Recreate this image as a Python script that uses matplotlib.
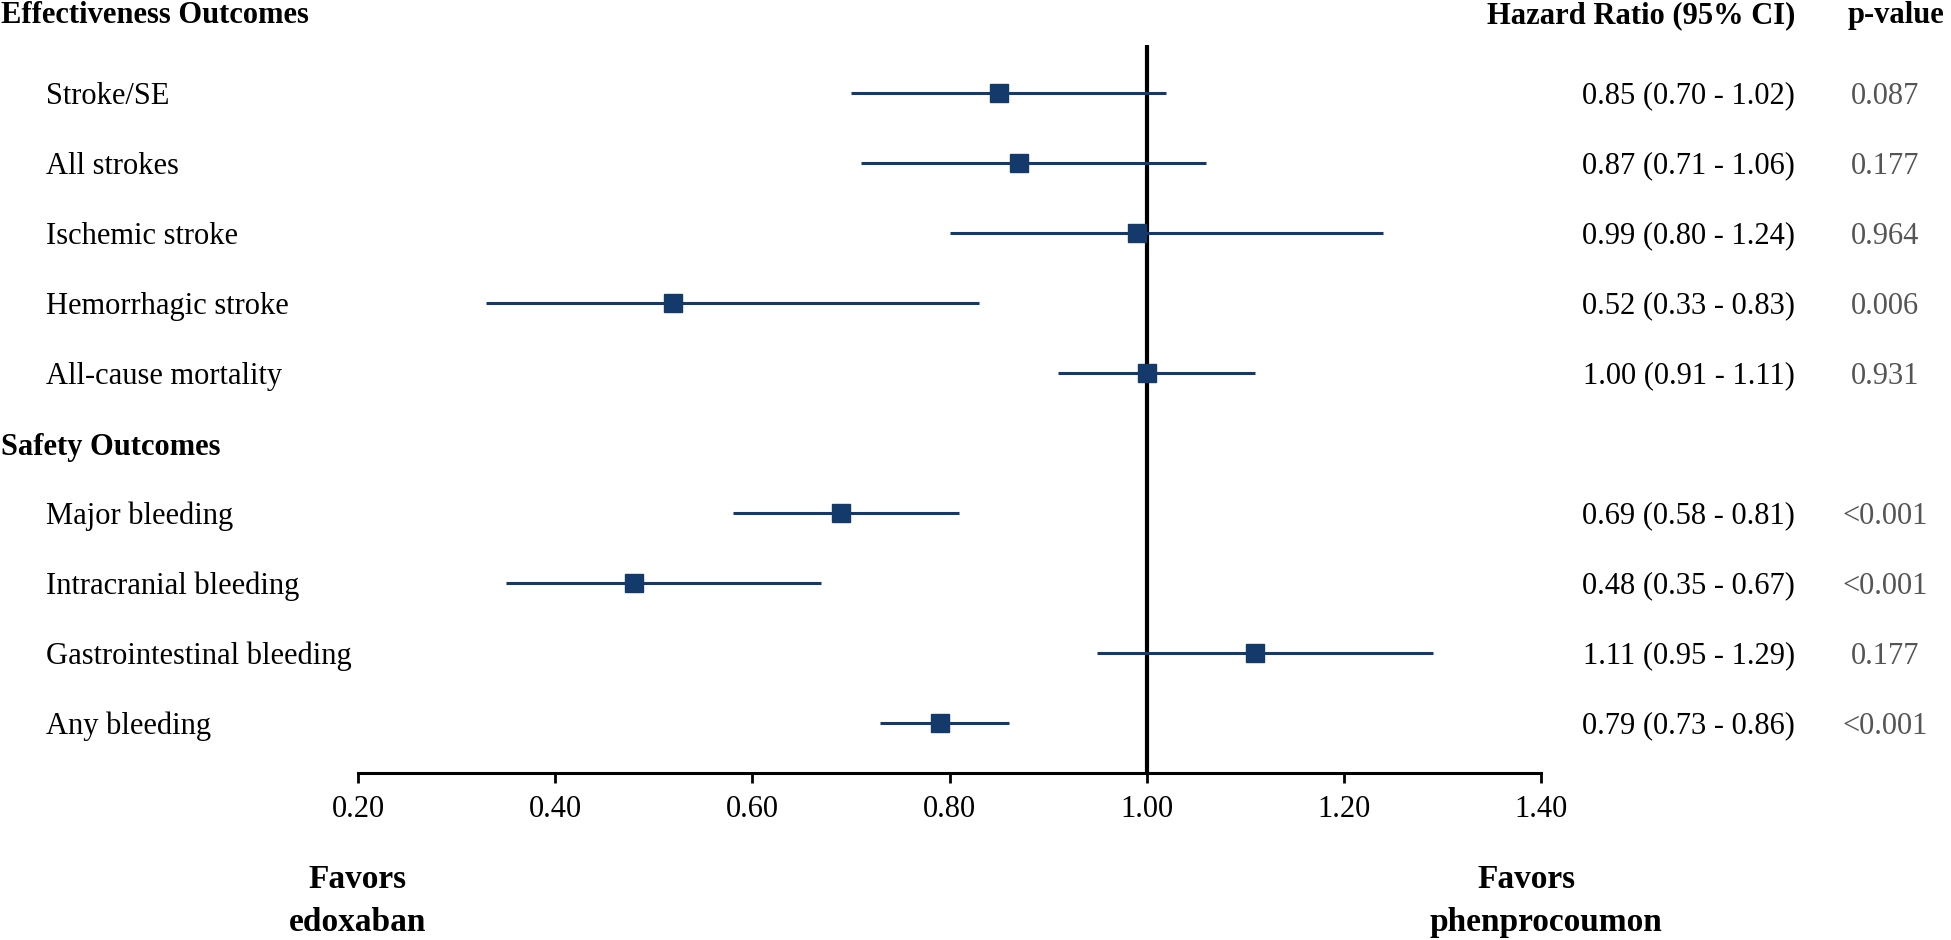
import matplotlib
matplotlib.use('Agg')
import matplotlib.pyplot as plt
import matplotlib.transforms as mtransforms

# Data
labels = ['Stroke/SE', 'All strokes', 'Ischemic stroke', 'Hemorrhagic stroke', 'All-cause mortality',
          'Major bleeding', 'Intracranial bleeding', 'Gastrointestinal bleeding', 'Any bleeding']
hr = [0.85, 0.87, 0.99, 0.52, 1.00, 0.69, 0.48, 1.11, 0.79]
ci_lo = [0.70, 0.71, 0.80, 0.33, 0.91, 0.58, 0.35, 0.95, 0.73]
ci_hi = [1.02, 1.06, 1.24, 0.83, 1.11, 0.81, 0.67, 1.29, 0.86]
pvals = ['0.087', '0.177', '0.964', '0.006', '0.931', '<0.001', '<0.001', '0.177', '<0.001']
rows = [1, 2, 3, 4, 5, 7, 8, 9, 10]
groups = ['Effectiveness Outcomes', 'Safety Outcomes']
group_rows = [0, 6]
xticks = [0.2, 0.4, 0.6, 0.8, 1.0, 1.2, 1.4]

plt.rcParams['font.family'] = ['Liberation Serif', 'DejaVu Serif']
navy = '#133a6a'
W, H = 1951, 940

fig = plt.figure(figsize=(W / 100, H / 100), dpi=100)
ax = fig.add_axes([358 / W, (H - 773) / H, (1541 - 358) / W, (773 - 45) / H])
ax.set_xlim(0.2, 1.4)
ax.set_ylim(10.714, 0.314)

# CI lines and markers
for y, h, lo, hi in zip(rows, hr, ci_lo, ci_hi):
    ax.plot([lo, hi], [y, y], color=navy, lw=2.2, solid_capstyle='butt', zorder=2)
    ax.plot(h, y, marker='s', ms=13, color=navy, zorder=3)

ax.axvline(1.0, color='black', lw=3, zorder=1)

for s in ['top', 'right', 'left']:
    ax.spines[s].set_visible(False)
ax.spines['bottom'].set_linewidth(2.2)
ax.set_yticks([])
ax.set_xticks(xticks)
ax.set_xticklabels([f'{t:.2f}' for t in xticks], fontsize=22)
ax.tick_params(axis='x', length=7, width=2, pad=9)

trans = mtransforms.blended_transform_factory(fig.transFigure, ax.transData)
off = 0.15

# group headers
for g, gy in zip(groups, group_rows):
    ax.text(1 / W, gy + (0.17 if gy else 0.0), g, transform=trans, fontsize=22,
            fontweight='bold', ha='left', va='baseline', clip_on=False)

ax.text(1795 / W, 0.0, 'Hazard Ratio (95% CI)', transform=trans, fontsize=22,
        fontweight='bold', ha='right', va='baseline', clip_on=False)
ax.text(1896 / W, 0.0, 'p-value', transform=trans, fontsize=22,
        fontweight='bold', ha='center', va='baseline', clip_on=False)

for lab, y, h, lo, hi, p in zip(labels, rows, hr, ci_lo, ci_hi, pvals):
    ax.text(46 / W, y + off, lab, transform=trans, fontsize=22, ha='left',
            va='baseline', clip_on=False)
    ax.text(1795 / W, y + off, f'{h:.2f} ({lo:.2f} - {hi:.2f})', transform=trans,
            fontsize=22, ha='right', va='baseline', clip_on=False)
    ax.text(1885 / W, y + off, p, transform=trans, fontsize=22, color='#555555',
            ha='center', va='baseline', clip_on=False)

# Favors labels
fig.text(358 / W, (H - 888) / H, 'Favors', fontsize=24, fontweight='bold', ha='center', va='baseline')
fig.text(358 / W, (H - 931) / H, 'edoxaban', fontsize=24, fontweight='bold', ha='center', va='baseline')
fig.text(1527 / W, (H - 888) / H, 'Favors', fontsize=24, fontweight='bold', ha='center', va='baseline')
fig.text(1546 / W, (H - 931) / H, 'phenprocoumon', fontsize=24, fontweight='bold', ha='center', va='baseline')

fig.savefig('out.png', dpi=100)
